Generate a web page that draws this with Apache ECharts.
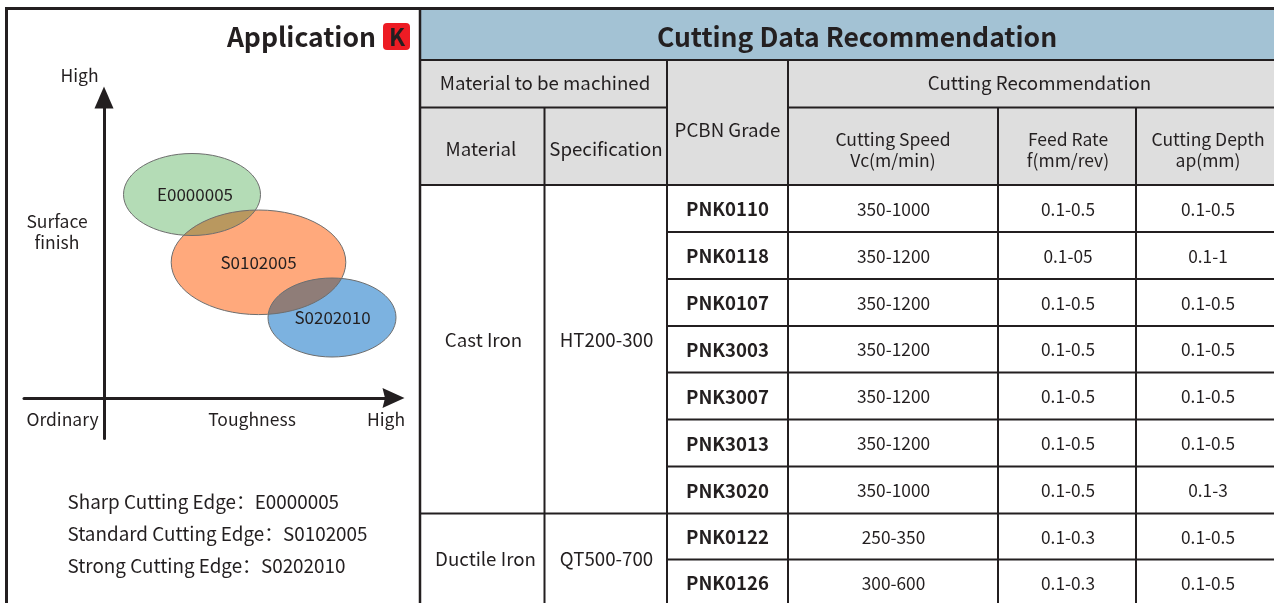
<!DOCTYPE html>
<html><head><meta charset="utf-8">
<style>html,body{margin:0;padding:0;background:#fff}#c{width:1274px;height:603px}</style>
<script src="https://cdn.jsdelivr.net/npm/echarts@6/dist/echarts.min.js"></script>
</head><body><div id="c"></div>
<script>
// --- data ---
const edgeNames = ['E0000005', 'S0102005', 'S0202010'];
const toughness = [88, 154.5, 228];       // ellipse centre along Toughness
const finish = [203.5, 135.7, 80.5];      // ellipse centre along Surface finish
const toughSpread = [68.5, 87.3, 64];     // ellipse half-width
const finishSpread = [41, 52.3, 39.5];    // ellipse half-height
const legendLines = ['Sharp Cutting Edge：E0000005', 'Standard Cutting Edge：S0102005', 'Strong Cutting Edge：S0202010'];
const grades = ['PNK0110','PNK0118','PNK0107','PNK3003','PNK3007','PNK3013','PNK3020','PNK0122','PNK0126'];
const speeds = ['350-1000','350-1200','350-1200','350-1200','350-1200','350-1200','350-1000','250-350','300-600'];
const feeds = ['0.1-0.5','0.1-05','0.1-0.5','0.1-0.5','0.1-0.5','0.1-0.5','0.1-0.5','0.1-0.3','0.1-0.3'];
const depths = ['0.1-0.5','0.1-1','0.1-0.5','0.1-0.5','0.1-0.5','0.1-0.5','0.1-3','0.1-0.5','0.1-0.5'];
const materials = [['Cast Iron','HT200-300',0,7],['Ductile Iron','QT500-700',7,9]];

// --- layout ---
const FONT = '"Noto Sans CJK SC","Noto Sans",sans-serif';
const INK = '#231f20';
const rowY = [185, 232, 279, 326, 372.5, 419.5, 466.5, 513.5, 559.5, 606];
const fills = ['#b4dcb6', '#ffa97c', '#7cb2e0'];
const overlapFills = [null, '#b9985f', '#8f7d78'];
const labelShift = [[3, 0], [0, 0], [0.5, 0]];

const g = [];
const rect = (x, y, w, h, fill, z) => g.push({type:'rect', shape:{x, y, width:w, height:h}, style:{fill}, z: z||1, silent:true});
const line = (x1, y1, x2, y2, w) => g.push({type:'line', shape:{x1, y1, x2, y2}, style:{stroke:INK, lineWidth:w||2}, z:3, silent:true});
const text = (x, y, t, size, weight, align) => g.push({type:'text', x, y, z:5, silent:true,
  style:{text:t, fill:INK, font:(weight||'normal')+' '+size+'px '+FONT, align:align||'center', verticalAlign:'middle'}});

// frame + header fills
rect(420.5, 9, 854, 51, '#a3c2d4');
rect(420.5, 60, 854, 125, '#dedede');
line(6.5, 7, 6.5, 603, 3);
line(5, 8.5, 1274, 8.5, 3);
line(420, 7, 420, 603, 2.5);
line(420, 60, 1274, 60);
line(420, 107.5, 667, 107.5);
line(788, 107.5, 1274, 107.5);
line(420, 185, 1274, 185);
line(544.5, 107.5, 544.5, 603);
line(667, 60, 667, 603);
line(788, 60, 788, 603);
line(998, 107.5, 998, 603);
line(1136, 107.5, 1136, 603);
rowY.slice(1, -1).forEach((y, i) => {
  const x0 = (i === 6) ? 420 : 667;
  line(x0, y, 1274, y);
});

// title block
text(376, 37, 'Application', 26.5, 'bold', 'right');
g.push({type:'rect', shape:{x:383, y:23, width:27, height:27, r:4}, style:{fill:'#ed1c24'}, z:4, silent:true});
text(397, 37, 'K', 23.5, 'bold');
text(857, 37, 'Cutting Data Recommendation', 26.5, 'bold');

// headers
text(545, 83, 'Material to be machined', 18.7);
text(1039.5, 83, 'Cutting Recommendation', 18.7);
text(481, 149, 'Material', 18.7);
text(606, 149, 'Specification', 18.7);
text(727.5, 130, 'PCBN Grade', 18.7);
text(893, 139, 'Cutting Speed', 17.5);
text(893, 160, 'Vc(m/min)', 17.5);
text(1068, 139, 'Feed Rate', 17.5);
text(1068, 160, 'f(mm/rev)', 17.5);
text(1208, 139, 'Cutting Depth', 17.5);
text(1208, 160, 'ap(mm)', 17.5);

// rows
grades.forEach((name, i) => {
  const y = (rowY[i] + rowY[i + 1]) / 2 + 0.5;
  text(727.5, y, name, 18.6, 'bold');
  text(893.5, y, speeds[i], 17.3);
  text(1068, y, feeds[i], 17.3);
  text(1208, y, depths[i], 17.3);
});
materials.forEach((m, k) => {
  const y = k ? 559 : 340;
  text(k ? 485.5 : 483.5, y, m[0], 18.7);
  text(606.5, y, m[1], 18.7);
});

// diagram captions
text(79.5, 75, 'High', 17.5);
text(57, 221, 'Surface', 17.5);
text(57, 242, 'finish', 17.5);
text(62.5, 419, 'Ordinary', 17.5);
text(252, 419, 'Toughness', 17.5);
text(386, 419, 'High', 17.5);
legendLines.forEach((t, i) => text(67.5, 502 + i * 32, t, 18.85, 'normal', 'left'));

const chart = echarts.init(document.getElementById('c'), null, {renderer:'canvas'});
const axisCommon = {type:'value', splitLine:{show:false}, axisTick:{show:false}, axisLabel:{show:false}};
const ell = (api, i) => {
  const c = api.coord([toughness[i], finish[i]]);
  const s = api.size([toughSpread[i], finishSpread[i]]);
  return {cx:c[0], cy:c[1], rx:s[0], ry:s[1]};
};
chart.setOption({
  animation:false,
  backgroundColor:'#fff',
  grid:{left:24, right:1274-393.5, top:97.5, bottom:603-438.5},
  xAxis:{...axisCommon, min:-80, max:289.5, axisLine:{onZero:true, symbol:['none','path://M10 0L20 22L10 19.5L0 22Z'], symbolSize:[22,22], symbolOffset:[0,0], lineStyle:{color:INK, width:3}}},
  yAxis:{...axisCommon, min:-40.5, max:300.5, axisLine:{onZero:true, symbol:['none','path://M9.5 0L19 22L0 22Z'], symbolSize:[22,22], symbolOffset:[0,0], lineStyle:{color:INK, width:3}}},
  series:[{
    type:'custom', z:2, clip:false,
    data: edgeNames.map((n, i) => [toughness[i], finish[i], i]),
    encode:{x:0, y:1},
    renderItem:(p, api) => {
      const i = api.value(2);
      const children = [{type:'ellipse', shape:ell(api, i), style:{fill:fills[i]}}];
      if (i > 0) children.push({type:'ellipse', shape:ell(api, i - 1), style:{fill:overlapFills[i]},
        clipPath:{type:'ellipse', shape:ell(api, i)}});
      return {type:'group', children};
    }
  },{
    type:'custom', z:3, clip:false,
    data: edgeNames.map((n, i) => [toughness[i], finish[i], i]),
    encode:{x:0, y:1},
    renderItem:(p, api) => ({type:'ellipse', shape:ell(api, api.value(2)),
      style:{fill:'none', stroke:'#6e6e6e', lineWidth:1}})
  },{
    type:'scatter', z:4, symbolSize:0, itemStyle:{opacity:1},
    data: edgeNames.map((n, i) => ({value:[toughness[i], finish[i]], name:n, label:{offset:labelShift[i]}})),
    label:{show:true, position:'inside', formatter:'{b}', fontFamily:FONT, fontSize:17, color:INK, opacity:1}
  }],
  graphic:{elements:g}
});
</script></body></html>
